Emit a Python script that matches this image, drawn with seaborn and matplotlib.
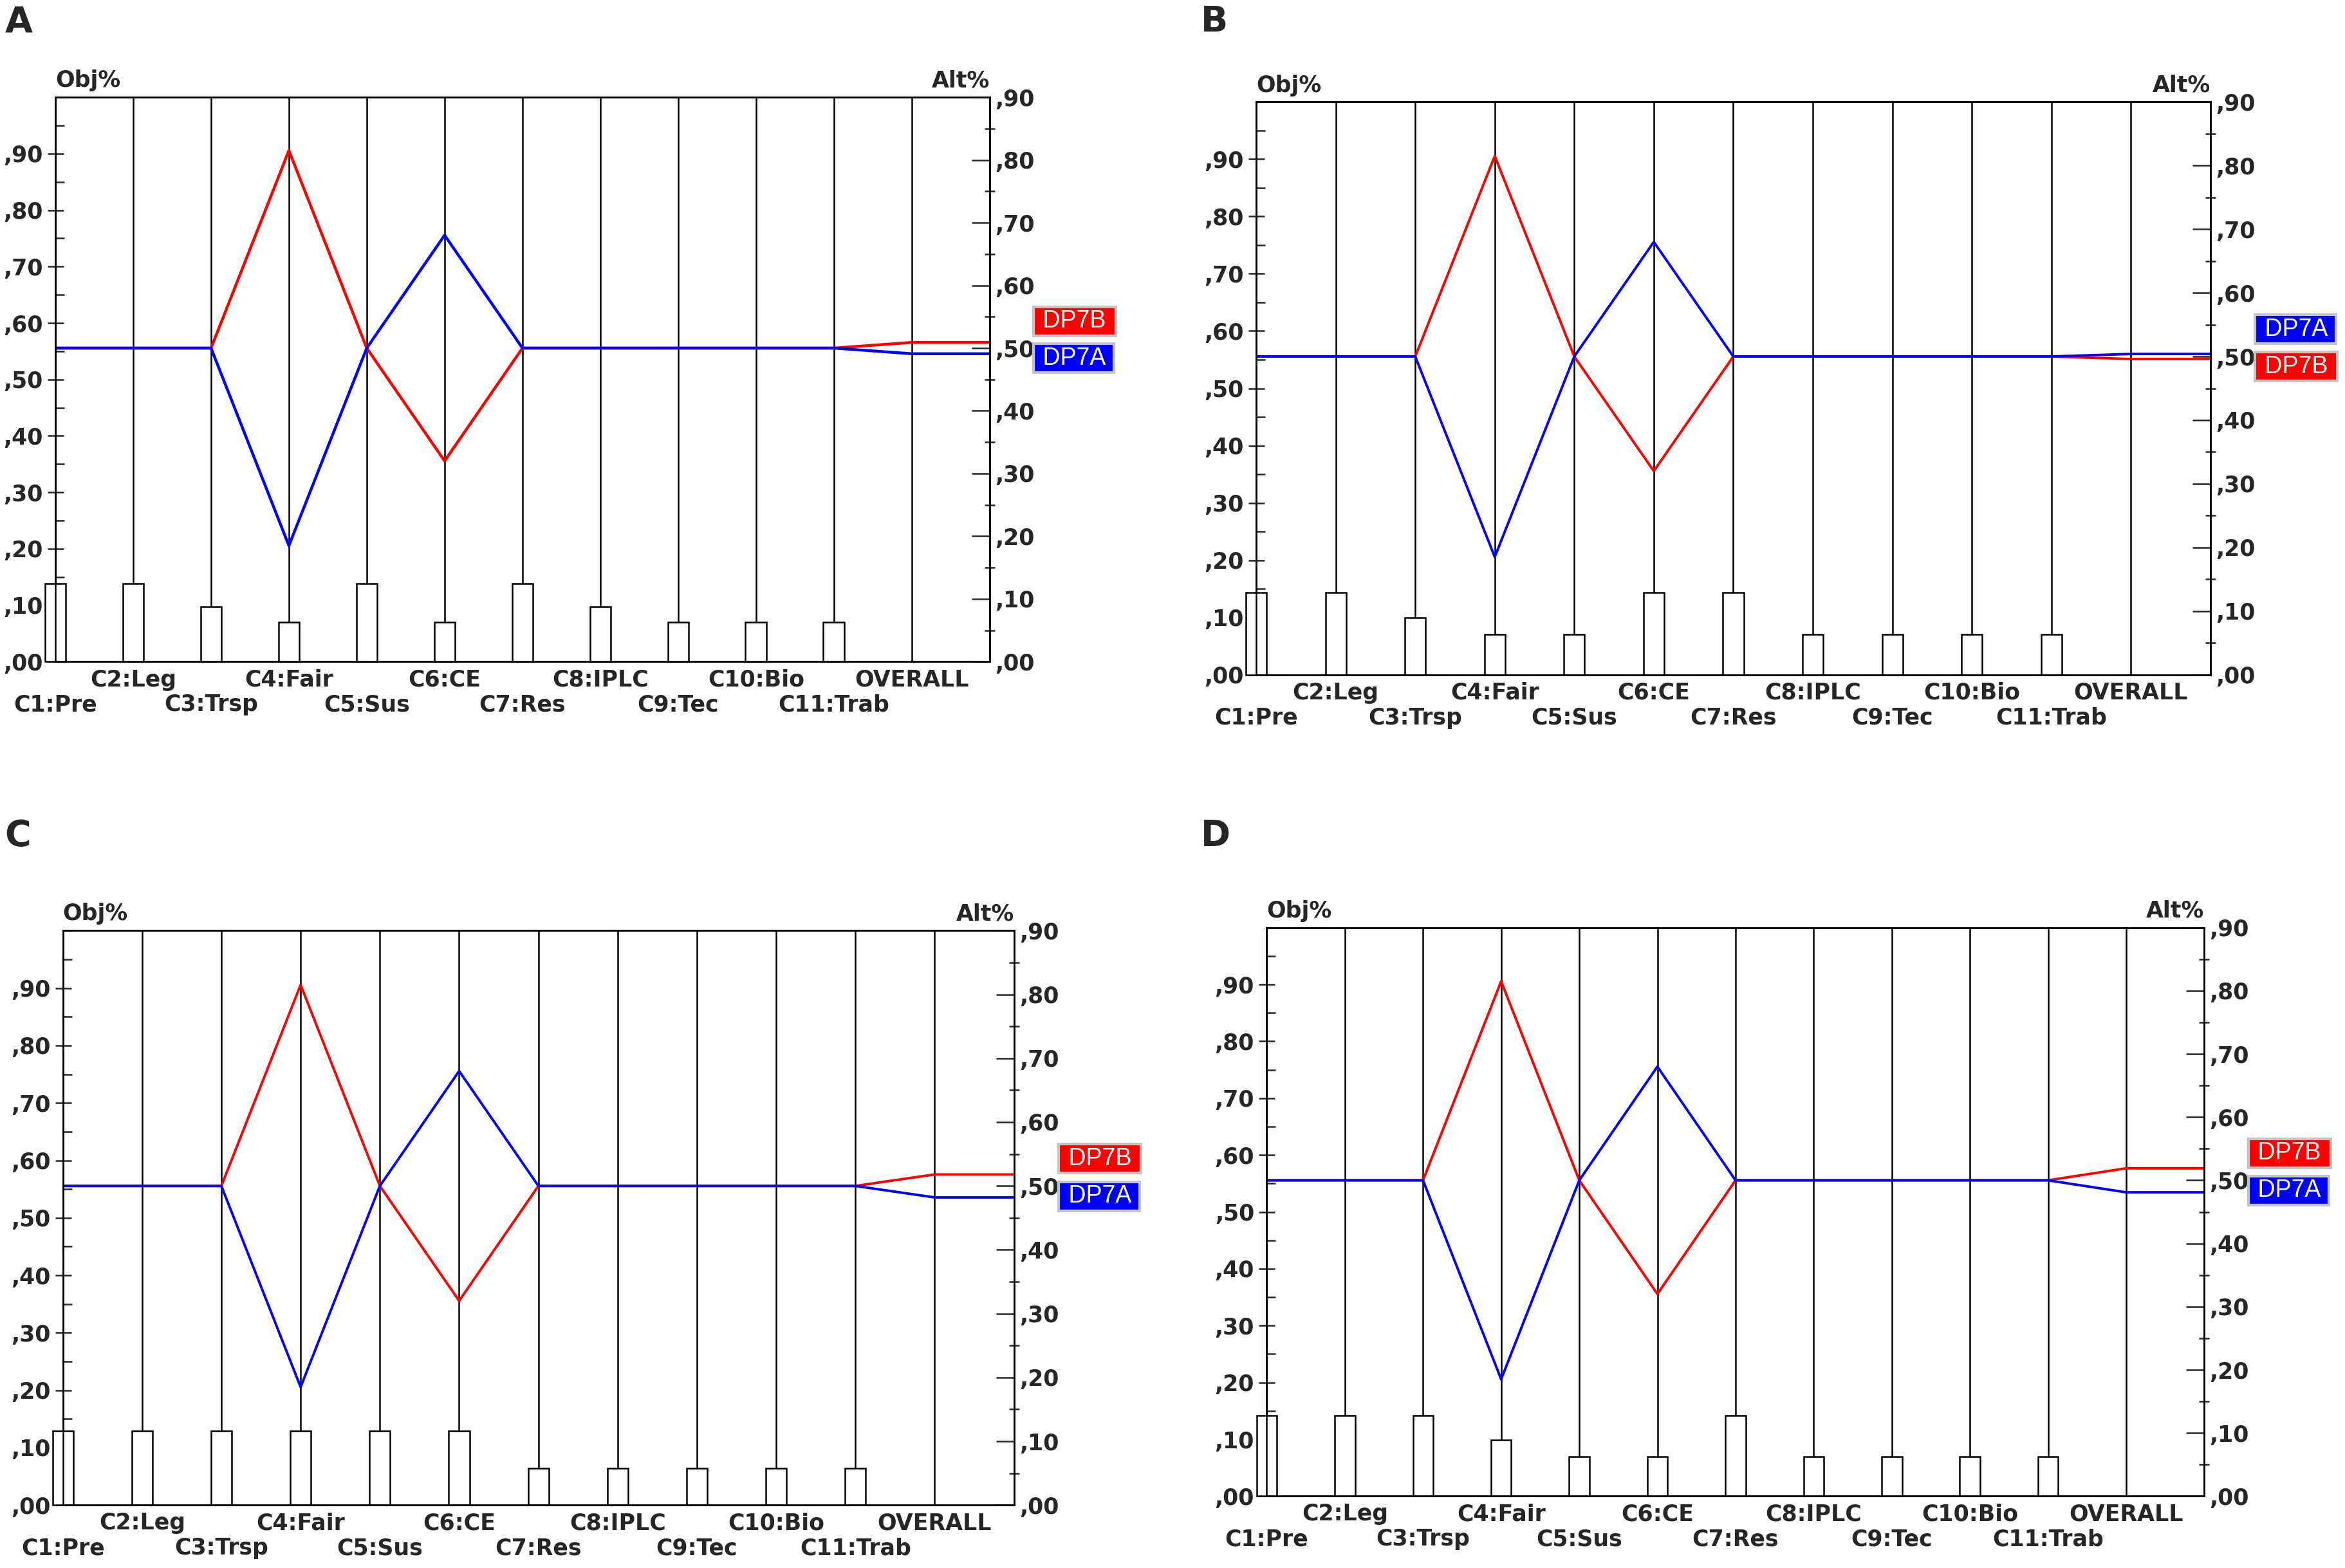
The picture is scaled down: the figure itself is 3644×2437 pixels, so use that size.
import numpy as np
import pandas as pd
import matplotlib
matplotlib.use("Agg")
import matplotlib.pyplot as plt
import matplotlib.transforms as mtransforms
from matplotlib.ticker import MultipleLocator, FuncFormatter
import seaborn as sns

# *DATA*
criteria = ["C1:Pre", "C2:Leg", "C3:Trsp", "C4:Fair", "C5:Sus", "C6:CE",
            "C7:Res", "C8:IPLC", "C9:Tec", "C10:Bio", "C11:Trab"]
columns = criteria + ["OVERALL"]
alternatives = ["DP7B", "DP7A"]
alt_colors = {"DP7B": "#ff0000", "DP7A": "#0000ff"}

## criteria weights (Obj%)
weights_a = [0.138, 0.138, 0.097, 0.070, 0.138, 0.070, 0.138, 0.097, 0.070, 0.070, 0.070]
weights_b = [0.143, 0.143, 0.100, 0.070, 0.070, 0.143, 0.143, 0.070, 0.070, 0.070, 0.070]
weights_c = [0.129, 0.129, 0.129, 0.129, 0.129, 0.129, 0.064, 0.064, 0.064, 0.064, 0.064]
weights_d = [0.142, 0.142, 0.142, 0.099, 0.070, 0.070, 0.142, 0.070, 0.070, 0.070, 0.070]

## alternative priorities (Alt%), per criterion + overall
dp7b_a = [0.50, 0.50, 0.50, 0.815, 0.50, 0.32, 0.50, 0.50, 0.50, 0.50, 0.50, 0.509]
dp7a_a = [0.50, 0.50, 0.50, 0.185, 0.50, 0.68, 0.50, 0.50, 0.50, 0.50, 0.50, 0.491]
dp7b_b = [0.50, 0.50, 0.50, 0.815, 0.50, 0.32, 0.50, 0.50, 0.50, 0.50, 0.50, 0.496]
dp7a_b = [0.50, 0.50, 0.50, 0.185, 0.50, 0.68, 0.50, 0.50, 0.50, 0.50, 0.50, 0.504]
dp7b_c = [0.50, 0.50, 0.50, 0.815, 0.50, 0.32, 0.50, 0.50, 0.50, 0.50, 0.50, 0.518]
dp7a_c = [0.50, 0.50, 0.50, 0.185, 0.50, 0.68, 0.50, 0.50, 0.50, 0.50, 0.50, 0.482]
dp7b_d = [0.50, 0.50, 0.50, 0.815, 0.50, 0.32, 0.50, 0.50, 0.50, 0.50, 0.50, 0.519]
dp7a_d = [0.50, 0.50, 0.50, 0.185, 0.50, 0.68, 0.50, 0.50, 0.50, 0.50, 0.50, 0.481]

#----------------------------------------------------------------------

sns.set_style("white")
plt.rcParams["font.family"] = ["DejaVu Sans"]
label_font = ["DejaVu Sans"]
box_font = ["Liberation Sans", "DejaVu Sans"]
FS = 25


def pct(v, pos=None):
    return "," + f"{int(round(v * 100)):02d}"


def draw_panel(fig, rect, letter, letter_xy, weights, b_vals, a_vals, lw_alt, bar_w):
    ax = fig.add_axes(rect)
    x_pos = np.arange(len(columns))

    ## vertical criterion lines
    ax.vlines(x_pos, 0, 1, color="black", lw=1.8, zorder=1)

    ## weight bars
    sns.barplot(x=x_pos[:len(weights)], y=weights, native_scale=True, orient="x",
                width=bar_w, color="white", edgecolor="black", linewidth=1.8,
                saturation=1, errorbar=None, ax=ax, zorder=3)
    for p in ax.patches:
        p.set_clip_on(False)

    ax.set_xlim(0, len(columns))
    ax.set_ylim(0, 1)
    ax.set_xlabel("")
    ax.set_ylabel("")

    ax.set_yticks(np.arange(0, 0.91, 0.1))
    ax.yaxis.set_minor_locator(MultipleLocator(0.05))
    ax.yaxis.set_major_formatter(FuncFormatter(pct))
    ax.tick_params(axis="y", which="major", direction="inout", length=18, width=1.8,
                   labelsize=FS, pad=5)
    ax.tick_params(axis="y", which="minor", direction="in", length=10, width=1.8)

    ## two rows of criterion labels
    ax.set_xticks(x_pos[1::2], [columns[i] for i in x_pos[1::2]])
    ax.set_xticks(x_pos[0::2], [columns[i] for i in x_pos[0::2]], minor=True)
    ax.tick_params(axis="x", which="both", length=0, labelsize=FS)
    ax.tick_params(axis="x", which="major", pad=8)
    ax.tick_params(axis="x", which="minor", pad=36)
    for lab in ax.get_xticklabels(which="both") + ax.get_yticklabels():
        lab.set_family(label_font)
        lab.set_fontweight("bold")

    for s in ax.spines.values():
        s.set_color("black")
        s.set_linewidth(1.8)

    ## alternative lines on right axis
    ax2 = ax.twinx()
    xs = list(x_pos) + [len(columns)]
    df = pd.DataFrame({
        "x": xs * 2,
        "value": b_vals + [b_vals[-1]] + a_vals + [a_vals[-1]],
        "alt": ["DP7B"] * len(xs) + ["DP7A"] * len(xs),
    })
    sns.lineplot(data=df, x="x", y="value", hue="alt", hue_order=alternatives,
                 palette=alt_colors, estimator=None, sort=False, legend=False,
                 lw=lw_alt, ax=ax2)
    ax2.set_ylim(0, 0.9)
    ax2.set_xlim(0, len(columns))
    ax2.set_ylabel("")
    ax2.set_yticks(np.arange(0, 0.91, 0.1))
    ax2.yaxis.set_minor_locator(MultipleLocator(0.05))
    ax2.yaxis.set_major_formatter(FuncFormatter(pct))
    ax2.tick_params(axis="y", which="major", direction="in", length=20, width=1.8,
                    labelsize=FS, pad=6)
    ax2.tick_params(axis="y", which="minor", direction="inout", length=12, width=1.8)
    for lab in ax2.get_yticklabels():
        lab.set_family(label_font)
        lab.set_fontweight("bold")
    for s in ax2.spines.values():
        s.set_color("black")
        s.set_linewidth(1.8)

    ax.text(0, 1.01, "Obj%", transform=ax.transAxes, ha="left", va="bottom",
            fontsize=FS, family=label_font, fontweight="bold")
    ax.text(1, 1.01, "Alt%", transform=ax.transAxes, ha="right", va="bottom",
            fontsize=FS, family=label_font, fontweight="bold")

    ## alternative name boxes, higher overall on top
    trans = mtransforms.blended_transform_factory(ax2.transAxes, ax2.transData)
    overall = {"DP7B": b_vals[-1], "DP7A": a_vals[-1]}
    ranked = sorted(alternatives, key=lambda k: -overall[k])
    for name, yy in zip(ranked, [0.543, 0.484]):
        ax2.text(1.05, yy, " " + name + " ", transform=trans, ha="left",
                 va="center", color="white", fontsize=27, family=box_font,
                 clip_on=False,
                 bbox=dict(boxstyle="square,pad=0.12", fc=alt_colors[name],
                           ec="#c4c4c4", lw=3))

    fig.text(letter_xy[0], letter_xy[1], letter, ha="left", va="top",
             fontsize=40, fontweight="bold", family="DejaVu Sans")


fig = plt.figure(figsize=(36.44, 24.37), dpi=100)

draw_panel(fig, [0.0236, 0.578, 0.3984, 0.360], "A", (0.002, 0.997),
           weights_a, dp7b_a, dp7a_a, 3.2, 0.27)
draw_panel(fig, [0.5357, 0.5697, 0.4069, 0.3653], "B", (0.512, 0.997),
           weights_b, dp7b_b, dp7a_b, 2.8, 0.26)
draw_panel(fig, [0.0268, 0.0401, 0.4056, 0.3664], "C", (0.002, 0.478),
           weights_c, dp7b_c, dp7a_c, 2.8, 0.26)
draw_panel(fig, [0.5402, 0.0458, 0.3998, 0.3626], "D", (0.512, 0.478),
           weights_d, dp7b_d, dp7a_d, 2.8, 0.26)

fig.savefig("out.png", dpi=100)
